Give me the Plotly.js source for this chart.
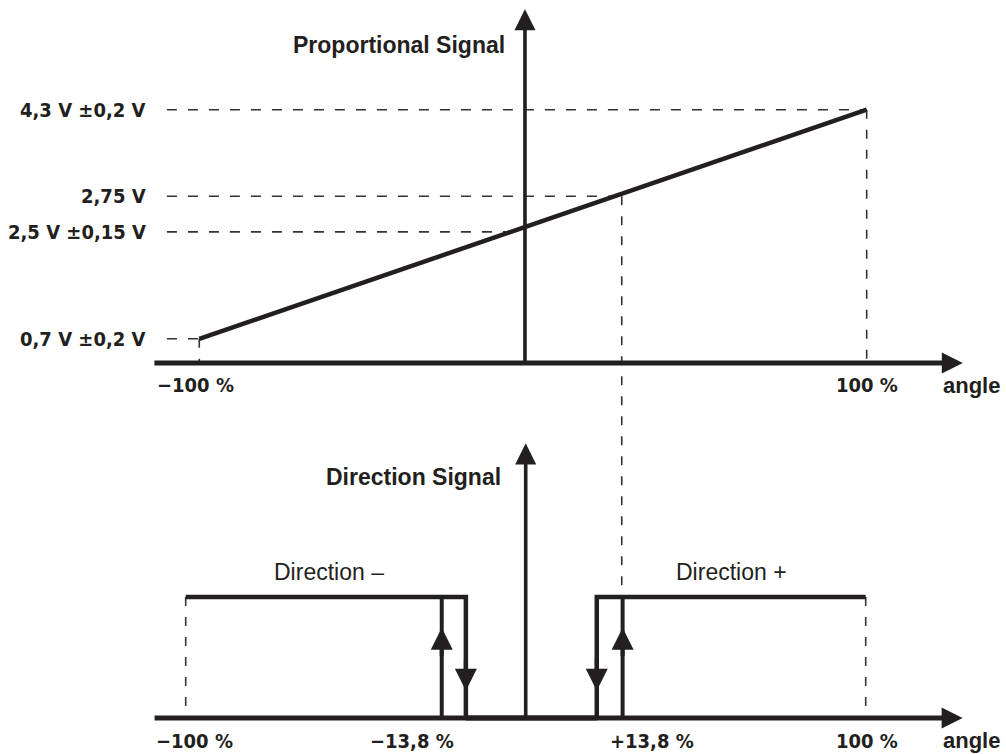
<!DOCTYPE html>
<html>
<head>
<meta charset="utf-8">
<script src="https://cdn.plot.ly/plotly-3.0.1.min.js"></script>
<style>
  html, body { margin: 0; padding: 0; background: #ffffff; }
  #chart { width: 1006px; height: 754px; }
</style>
</head>
<body>
<div id="chart"></div>
<script>
// ---------------- DATA ----------------
// Proportional signal (upper diagram)
const propAngle = [-100, 100];          // steering angle, %
const propVolt  = [0.7, 4.3];           // output voltage, V
const voltLevels      = [4.3, 2.75, 2.5, 0.7];
const voltLevelLabels = ['4,3 V ±0,2 V', '2,75 V', '2,5 V ±0,15 V', '0,7 V ±0,2 V'];
const voltLevelDrawn  = [4.3, 2.94, 2.38, 0.7];   // height at which the (not to scale) diagram draws each level
const voltLevelReach  = [100, 26.6, -2.4, -100];  // angle where each dashed guide meets the signal / axis
const topTickPos  = [-100, 100];
const topTickText = ['−100 %', '100 %'];
const thresholdAngleTop = 26.6;                    // angle at 2,75 V, carried down to the direction signal

// Direction signal (lower diagram), 0 = off, 1 = on
const dirMinusAngle = [-100, -17.6, -17.6];
const dirMinusLevel = [1, 1, 0];
const dirPlusAngle  = [20.9, 20.9, 100];
const dirPlusLevel  = [0, 1, 1];
const offBandAngle  = [-17.6, 20.9];
const offBandLevel  = [0, 0];
const switchOnAngle  = [-24.7, 28.5];   // rising edges (arrow up)
const switchOffAngle = [-17.6, 20.9];   // falling edges (arrow down)
const bottomTickPos  = [-97.3, -33.5, 37.1, 100.5];
const bottomTickText = ['−100 %', '−13,8 %', '+13,8 %', '100 %'];
const dirLabels     = ['Direction –', 'Direction +'];
const dirLabelAngle = [-58.0, 60.6];

// ---------------- STYLE ----------------
const INK  = '#231f20';
const DASH = '#333333';
const condFont = { family: '"DejaVu Sans Condensed", "DejaVu Sans", sans-serif', size: 20, color: INK, weight: 'bold' };
const sansBold = { family: '"Liberation Sans", Arial, sans-serif', size: 23, color: INK, weight: 'bold' };
const sansReg  = { family: '"Liberation Sans", Arial, sans-serif', size: 23, color: INK };

const topX = [-159.72, 141.75], topY = [-5.824, 6.024];
const botX = [-154.62, 141.26], botY = [-0.2975, 5.934];
const topAxisY = 0.32, topAxisX = -2.4;
const botLabelY = -0.19;
const paperY = (v, r) => (v - r[0]) / (r[1] - r[0]);

const traces = [];
// top: dashed guides
voltLevels.forEach((v, i) => {
  traces.push({ x: [-109.7, voltLevelReach[i]], y: [voltLevelDrawn[i], voltLevelDrawn[i]],
    xaxis: 'x', yaxis: 'y', mode: 'lines', line: { color: DASH, width: 1.6, dash: '10px,11px' }, hoverinfo: 'skip' });
});
[0, 1].forEach(i => {
  traces.push({ x: [propAngle[i], propAngle[i]], y: [propVolt[i], topAxisY],
    xaxis: 'x', yaxis: 'y', mode: 'lines', line: { color: DASH, width: 1.6, dash: '9px,11px' }, hoverinfo: 'skip' });
});
// top: the proportional signal
traces.push({ x: propAngle, y: propVolt, xaxis: 'x', yaxis: 'y', mode: 'lines',
  line: { color: INK, width: 4.5 }, hoverinfo: 'skip' });

// bottom: dashed at ±100 %
[dirMinusAngle[0], dirPlusAngle[2]].forEach(a => {
  traces.push({ x: [a, a], y: [1, 0], xaxis: 'x2', yaxis: 'y2', mode: 'lines',
    line: { color: DASH, width: 1.6, dash: '9px,11px' }, hoverinfo: 'skip' });
});
// bottom: direction signals
traces.push({ x: dirMinusAngle, y: dirMinusLevel, xaxis: 'x2', yaxis: 'y2', mode: 'lines', line: { color: INK, width: 4.5 }, hoverinfo: 'skip' });
traces.push({ x: dirPlusAngle,  y: dirPlusLevel,  xaxis: 'x2', yaxis: 'y2', mode: 'lines', line: { color: INK, width: 4.5 }, hoverinfo: 'skip' });
traces.push({ x: offBandAngle,  y: offBandLevel,  xaxis: 'x2', yaxis: 'y2', mode: 'lines', line: { color: INK, width: 5 }, hoverinfo: 'skip' });
switchOnAngle.forEach(a => {
  traces.push({ x: [a, a], y: [0, 1], xaxis: 'x2', yaxis: 'y2', mode: 'lines', line: { color: INK, width: 4 }, hoverinfo: 'skip' });
});

// ---------------- ANNOTATIONS ----------------
const arrow = (xr, yr, x0, y0, x1, y1, w, s) => ({
  xref: xr, yref: yr, axref: xr, ayref: yr, x: x1, y: y1, ax: x0, ay: y0,
  text: '', showarrow: true, arrowhead: 2, arrowwidth: w, arrowsize: s, arrowcolor: INK
});
const ann = [];
// axes
ann.push(arrow('x', 'y', -113.9, topAxisY, 128.8, topAxisY, 5, 0.84));
ann.push(arrow('x', 'y', topAxisX, topAxisY, topAxisX, 5.88, 3.6, 1.17));
ann.push(arrow('x2', 'y2', -109.6, 0, 128.5, 0, 5, 0.84));
ann.push(arrow('x2', 'y2', 0, 0, 0, 2.27, 3.6, 1.17));
// hysteresis arrows
switchOnAngle.forEach(a => ann.push(arrow('x2', 'y2', a, 0.5, a, 0.745, 4, 1.1)));
switchOffAngle.forEach(a => ann.push(arrow('x2', 'y2', a, 0.5, a, 0.225, 4, 1.1)));

// level labels
voltLevelLabels.forEach((t, i) => ann.push({ xref: 'x', yref: 'y', x: -115.4, y: voltLevelDrawn[i],
  xanchor: 'right', yanchor: 'middle', text: t, showarrow: false, font: condFont }));
// tick labels
topTickText.forEach((t, i) => ann.push({ xref: 'x', yref: 'y', x: topTickPos[i], y: -0.03,
  xshift: t.startsWith('−') ? -4 : 0, xanchor: 'center', yanchor: 'middle', text: t, showarrow: false, font: condFont }));
bottomTickText.forEach((t, i) => ann.push({ xref: 'x2', yref: 'y2', x: bottomTickPos[i], y: botLabelY,
  xanchor: 'center', yanchor: 'middle', text: t, showarrow: false, font: condFont }));
// axis names
const angleFont = Object.assign({}, sansBold, { size: 22 });
ann.push({ xref: 'x', yref: 'y', x: 131.3, y: -0.03, xanchor: 'center', yanchor: 'middle', text: 'angle', showarrow: false, font: angleFont });
ann.push({ xref: 'x2', yref: 'y2', x: 131.0, y: botLabelY, xanchor: 'center', yanchor: 'middle', text: 'angle', showarrow: false, font: angleFont });
ann.push({ xref: 'x', yref: 'y', x: -7.9, y: 5.32, xanchor: 'right', yanchor: 'middle', text: 'Proportional Signal', showarrow: false, font: sansBold });
ann.push({ xref: 'x2', yref: 'y2', x: -6.8, y: 1.99, xanchor: 'right', yanchor: 'middle', text: 'Direction Signal', showarrow: false, font: sansBold });
dirLabels.forEach((t, i) => ann.push({ xref: 'x2', yref: 'y2', x: dirLabelAngle[i], y: 1.207,
  xanchor: 'center', yanchor: 'middle', text: t, showarrow: false, font: sansReg }));

// connector from 2,75 V down to the +13,8 % switch point
const shapes = [{
  type: 'line', xref: 'x', yref: 'paper', x0: thresholdAngleTop, x1: thresholdAngleTop,
  y0: paperY(voltLevelDrawn[1], topY), y1: paperY(1, botY),
  line: { color: DASH, width: 1.6, dash: '9px,11px' }, layer: 'below'
}];

const ax = (r, extra) => Object.assign({ range: r, domain: [0, 1], visible: false, showgrid: false, zeroline: false, fixedrange: true }, extra);
const layout = {
  width: 1006, height: 754,
  margin: { l: 0, r: 0, t: 0, b: 0, pad: 0 },
  paper_bgcolor: '#ffffff', plot_bgcolor: 'rgba(0,0,0,0)',
  showlegend: false,
  xaxis: ax(topX, { anchor: 'y' }), yaxis: ax(topY, { anchor: 'x' }),
  xaxis2: ax(botX, { anchor: 'y2' }), yaxis2: ax(botY, { anchor: 'x2' }),
  annotations: ann, shapes: shapes
};
Plotly.newPlot('chart', traces, layout, { displayModeBar: false, staticPlot: true });
</script>
</body>
</html>
